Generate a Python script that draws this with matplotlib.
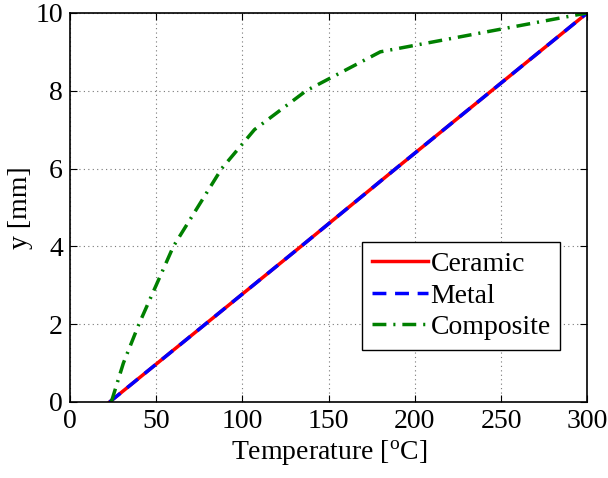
import matplotlib
matplotlib.use("Agg")
import matplotlib.pyplot as plt
import numpy as np

plt.rcParams['font.family'] = ['Liberation Serif', 'DejaVu Serif']
plt.rcParams['mathtext.fontset'] = 'custom'
plt.rcParams['mathtext.rm'] = 'Liberation Serif'
plt.rcParams['mathtext.it'] = 'Liberation Serif:italic'

# y positions through the thickness [mm]
y_ceramic = [0, 2, 4, 6, 8, 10]
t_ceramic = [23, 78.5, 134, 189, 244.5, 300]
y_metal = [0, 2, 4, 6, 8, 10]
t_metal = [23, 78.5, 134, 189, 244.5, 300]
y_comp = [0, 1, 2, 3, 4, 5, 6, 7, 8, 9, 10]
t_comp = [24, 31, 40, 50, 60, 74, 88, 107, 137, 180, 300]

fs = 20

fig = plt.figure(figsize=(6.08, 4.78), dpi=100)
ax = fig.add_axes([0.115, 0.159, 0.851, 0.814])

ax.plot(t_ceramic, y_ceramic, color='red', lw=2.5, label='Ceramic')
ax.plot(t_metal, y_metal, color='blue', lw=2.5, ls=(0, (4, 2.5)), label='Metal')
ax.plot(t_comp, y_comp, color='green', lw=2.5, ls=(0, (4, 2, 0.6, 2)), label='Composite')

ax.set_xlim(0, 300)
ax.set_ylim(0, 10)
ax.set_xticks([0, 50, 100, 150, 200, 250, 300])
ax.set_yticks([0, 2, 4, 6, 8, 10])
ax.grid(True, ls=(0, (1, 3)), color='#777777', lw=0.8)
ax.tick_params(direction='in', top=True, right=True, labelsize=fs, length=5, pad=5)
for s in ax.spines.values():
    s.set_linewidth(1.2)

ax.set_xlabel('Temperature [$^{\\mathrm{o}}$C]', fontsize=fs, labelpad=3)
ax.set_ylabel('y [mm]', fontsize=fs, labelpad=2)

leg = ax.legend(loc='lower right', bbox_to_anchor=(0.948, 0.134), fontsize=fs,
                fancybox=False, edgecolor='black', framealpha=1,
                handlelength=2.0, handletextpad=0.1, borderpad=0.35,
                labelspacing=0.22, borderaxespad=0)
leg.get_frame().set_linewidth(1.0)

plt.savefig('out.png', dpi=100)
